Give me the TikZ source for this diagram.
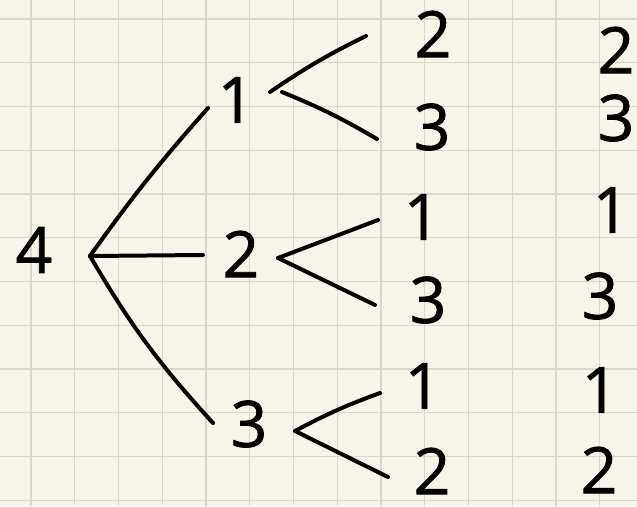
\documentclass[tikz,border=0pt]{standalone}
\usepackage{fontspec}
\setmainfont{Open Sans}[FakeBold=1.2]
\definecolor{paper}{HTML}{F7F5EA}
\definecolor{gridc}{HTML}{D9D9CD}
\begin{document}
\begin{tikzpicture}[x=1pt,y=-1pt,
  digit/.style={inner sep=0pt,font=\fontsize{64}{64}\selectfont},
  branch/.style={line width=4pt,line cap=round,black}]
\useasboundingbox (0,0) rectangle (637,506);
\fill[paper] (0,0) rectangle (637,506);
\foreach \i in {0,...,13} {\draw[gridc,line width=1.3pt] (31+43.75*\i,0) -- (31+43.75*\i,506);}
\foreach \i in {0,...,11} {\draw[gridc,line width=1.3pt] (0,19+43.75*\i) -- (637,19+43.75*\i);}
% level 0
\node[digit] (r) at (34,250) {4};
% level 1
\node[digit] (a) at (236,100) {1};
\node[digit] (b) at (241,254) {2};
\node[digit] (c) at (249,424) {3};
% level 2
\node[digit] (a1) at (433,34) {2};
\node[digit] (a2) at (432,127) {3};
\node[digit] (b1) at (422,217) {1};
\node[digit] (b2) at (428,300) {3};
\node[digit] (c1) at (423,386) {1};
\node[digit] (c2) at (432,471) {2};
% level 3
\node[digit] (a1x) at (616,50) {2};
\node[digit] (a2x) at (616,118) {3};
\node[digit] (b1x) at (611,210) {1};
\node[digit] (b2x) at (600,296) {3};
\node[digit] (c1x) at (600,390) {1};
\node[digit] (c2x) at (599,470) {2};
% connector ends
\coordinate (rj) at (90,256);
\coordinate (aL) at (208,108);
\coordinate (bL) at (203,255);
\coordinate (cL) at (213,423);
\coordinate (aj1) at (270,92);
\coordinate (aj2) at (282,92);
\coordinate (a1e) at (366,36);
\coordinate (a2e) at (377,139);
\coordinate (bj) at (278,258);
\coordinate (b1e) at (378,220);
\coordinate (b2e) at (375,305);
\coordinate (cj) at (295,431);
\coordinate (c1e) at (380,393);
\coordinate (c2e) at (388,477);
\draw[branch] (rj) to[bend left=3] (aL);
\draw[branch] (rj) -- (bL);
\draw[branch] (rj) to[bend right=6] (cL);
\draw[branch] (aj1) to[bend left=4] (a1e);
\draw[branch] (aj2) to[bend left=4] (a2e);
\draw[branch] (bj) -- (b1e);
\draw[branch] (bj) -- (b2e);
\draw[branch] (cj) to[bend left=4] (c1e);
\draw[branch] (cj) -- (c2e);
\end{tikzpicture}
\end{document}
